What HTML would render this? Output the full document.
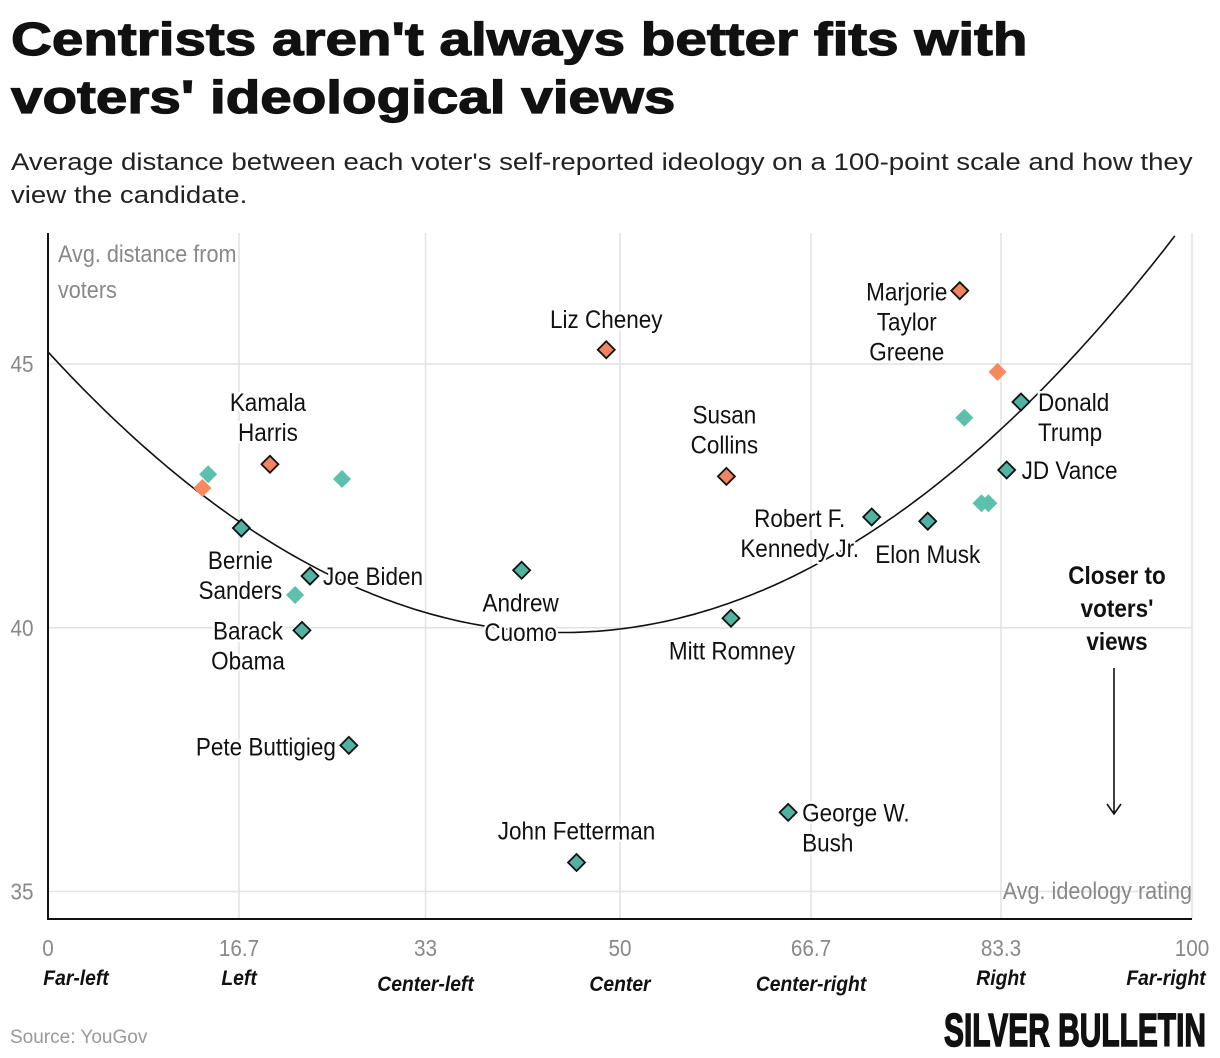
<!DOCTYPE html>
<html><head><meta charset="utf-8"><style>
body{margin:0;background:#fff;width:1220px;height:1058px;overflow:hidden;font-family:"Liberation Sans",sans-serif;}
#title{position:absolute;left:11px;top:10px;font-weight:900;font-size:46px;line-height:58px;color:#111;transform:scale(1.23,1);transform-origin:0 0;white-space:nowrap;-webkit-text-stroke:1.2px #111;}
#sub{position:absolute;left:11px;top:146px;font-size:24px;line-height:33px;color:#222;width:1035px;transform:scale(1.15,1);transform-origin:0 0;}
svg{position:absolute;left:0;top:0;}
</style></head><body>
<div id="title">Centrists aren't always better fits with<br>voters' ideological views</div>
<div id="sub">Average distance between each voter's self-reported ideology on a 100-point scale and how they view the candidate.</div>
<svg id="chart" width="1220" height="1058"></svg>
<script>
const names=["Marjorie|Taylor|Greene","Liz Cheney","","Donald|Trump","","Kamala|Harris","","","","Susan|Collins","JD Vance","","","Robert F.|Kennedy Jr.","Elon Musk","Bernie|Sanders","Joe Biden","Andrew|Cuomo","","Barack|Obama","Mitt Romney","Pete Buttigieg","George W.|Bush","John Fetterman"];
const xVals=[79.7,48.8,83.0,85.05,80.1,19.4,14.0,25.7,13.5,59.3,83.8,81.6,82.2,72.0,76.9,16.9,22.9,41.4,21.6,22.2,59.7,26.3,64.7,46.2];
const yVals=[46.39,45.27,44.85,44.28,43.98,43.10,42.91,42.82,42.65,42.87,42.99,42.36,42.36,42.10,42.02,41.89,40.98,41.09,40.62,39.95,40.18,37.77,36.50,35.55];
const parties=["R","R","R","T","T","R","T","T","R","R","T","T","T","T","T","T","T","T","T","T","T","T","T","T"];
const outlined=[1,1,0,1,0,1,0,0,0,1,1,0,0,1,1,1,1,1,0,1,1,1,1,1];
const xTicks=[0,16.7,33,50,66.7,83.3,100];
const xTickLabels=["0","16.7","33","50","66.7","83.3","100"];
const xCats=["Far-left","Left","Center-left","Center","Center-right","Right","Far-right"];
const yTicks=[35,40,45];
const curveA=0.002627, curveH=45, curveK=39.91;

const NS="http://www.w3.org/2000/svg";
const svg=document.getElementById('chart');
const X=v=>48+v*11.44;
const Y=v=>364-(v-45)*52.75;
function mk(tag,attrs,parent){const e=document.createElementNS(NS,tag);for(const k in attrs)e.setAttribute(k,attrs[k]);(parent||svg).appendChild(e);return e;}
function ctext(x,y,lines,opts,sx,lh){
  const t=mk('text',Object.assign({transform:`translate(${x},${y}) scale(${sx},1)`},opts));
  lines.forEach((ln,j)=>{const ts=mk('tspan',{x:0,dy:j?lh:0},t);ts.textContent=ln;});
  return t;
}
xTicks.forEach((t,i)=>{
  const l=mk('line',{x1:X(t),x2:X(t),y1:233,y2:919,stroke:'#e2e2e2','stroke-width':1.5});
  
  
  const tl=ctext(X(t),956,[xTickLabels[i]],{'text-anchor':'middle','font-size':23,fill:'#888'},0.9,0);
  
  
  const c=ctext(X(t)+(i==0?28:i==6?-26:0),(i==2||i==3||i==4)?991:985,[xCats[i]],{'text-anchor':'middle','font-size':21,'font-weight':'bold','font-style':'italic',fill:'#111'},0.92,0);
  
  
});
yTicks.forEach(t=>{
  const l=mk('line',{x1:48,x2:1192,y1:Y(t),y2:Y(t),stroke:'#e2e2e2','stroke-width':1.5});
  
  
  const tl=ctext(22,Y(t)+8,[String(t)],{'text-anchor':'middle','font-size':23,fill:'#888'},0.9,0);
  
  
});
let ax=mk('line',{x1:48,x2:48,y1:233,y2:920,stroke:'#111','stroke-width':2});


ax=mk('line',{x1:47,x2:1192,y1:919,y2:919,stroke:'#111','stroke-width':2});


let at=ctext(58,262,['Avg. distance from','voters'],{'font-size':24,fill:'#888'},0.9,36);


at=ctext(1192,899,['Avg. ideology rating'],{'text-anchor':'end','font-size':24,fill:'#888'},0.9,0);


let d='';
for(let x=0;x<=100;x+=0.5){const y=curveA*(x-curveH)**2+curveK;if(y>47.5)break;d+=(d?'L':'M')+X(x).toFixed(1)+','+Y(y).toFixed(1);}
const cp=mk('path',{d:d,fill:'none',stroke:'#111','stroke-width':1.6});


const off={"Marjorie|Taylor|Greene":[-53,2,'middle'],"Liz Cheney":[0,-30,'middle'],"Donald|Trump":[17,1,'start'],"Kamala|Harris":[-2,-61,'middle'],"Susan|Collins":[-2,-61,'middle'],"JD Vance":[15,1,'start'],"Robert F.|Kennedy Jr.":[-72,2,'middle'],"Elon Musk":[0,34,'middle'],"Bernie|Sanders":[-1,33,'middle'],"Joe Biden":[13,1,'start'],"Andrew|Cuomo":[-1,33,'middle'],"Barack|Obama":[-54,1,'middle'],"Mitt Romney":[1,33,'middle'],"Pete Buttigieg":[-13,2,'end'],"George W.|Bush":[14,1,'start'],"John Fetterman":[0,-31,'middle']};
xVals.forEach((xv,i)=>{
  const px=X(xv),py=Y(yVals[i]);
  const fill=parties[i]=='R'?(outlined[i]?'#f2845f':'#f7895f'):(outlined[i]?'#4fb3a0':'#5cc0ad');
  const s=outlined[i]?8.5:9;
  const p=mk('polygon',{points:`${px},${py-s} ${px+s},${py} ${px},${py+s} ${px-s},${py}`,fill:fill,stroke:outlined[i]?'#111':'none','stroke-width':1.8});
  
  
  if(names[i]){
    const o=off[names[i]]||[0,-30,'middle'];
    const t=ctext(px+o[0],py+o[1]+8,names[i].split('|'),{'text-anchor':o[2],'font-size':25,fill:'#111',stroke:'#fff','stroke-width':5,'paint-order':'stroke','stroke-linejoin':'round'},0.9,30);
    
    
  }
});
const an=ctext(1117,584,['Closer to',"voters'",'views'],{'text-anchor':'middle','font-size':25,'font-weight':'bold',fill:'#111'},0.9,33);


const ar=mk('path',{d:'M1114,668 L1114,814 M1107,804 L1114,814 L1121,804',fill:'none',stroke:'#111','stroke-width':1.6});


const src=mk('text',{x:10,y:1043,'font-size':19,fill:'#999'});
src.textContent='Source: YouGov';


const logo=mk('text',{x:0,y:0,'font-size':44,'font-weight':'bold',fill:'#111',stroke:'#111','stroke-width':1.5,transform:'translate(944,1046) scale(0.68,1.05)'});
logo.textContent='SILVER BULLETIN';


</script>
</body></html>
